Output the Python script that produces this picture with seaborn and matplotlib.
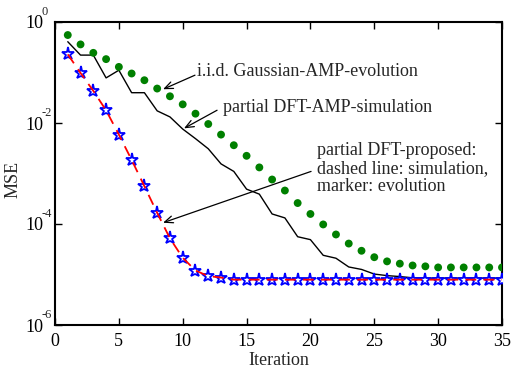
import numpy as np
import pandas as pd
import matplotlib
matplotlib.use("Agg")
import matplotlib.pyplot as plt
import seaborn as sns
from matplotlib.ticker import FixedLocator, NullLocator, FixedFormatter

iterations = list(range(1, 36))

gauss_amp_evolution = [0.552, 0.360, 0.245, 0.184, 0.129, 0.0955, 0.0703, 0.0481, 0.0338, 0.0234,
                       0.0153, 0.00955, 0.00589, 0.00363, 0.00224, 0.00132, 7.6e-4, 4.6e-4, 2.6e-4, 1.58e-4,
                       9.8e-5, 6.2e-5, 4.1e-5, 2.95e-5, 2.2e-5, 1.82e-5, 1.64e-5, 1.51e-5, 1.45e-5, 1.38e-5,
                       1.38e-5, 1.38e-5, 1.38e-5, 1.38e-5, 1.38e-5]

dft_amp_simulation = [0.407, 0.221, 0.221, 0.0782, 0.111, 0.0398, 0.0398, 0.0174, 0.0132, 0.00759,
                      0.0049, 0.00309, 0.00155, 0.0011, 4.9e-4, 3.9e-4, 1.58e-4, 1.32e-4, 5.6e-5, 4.9e-5,
                      2.4e-5, 2.1e-5, 1.41e-5, 1.26e-5, 1.02e-5, 9.5e-6, 9.1e-6, 8.6e-6, 8.5e-6, 8.5e-6,
                      8.5e-6, 8.5e-6, 8.5e-6, 8.5e-6, 8.5e-6]

dft_proposed = [0.229, 0.0977, 0.0432, 0.0178, 0.00589, 0.00186, 5.6e-4, 1.66e-4, 5.2e-5, 2.14e-5,
                1.2e-5, 9.3e-6, 8.7e-6, 7.9e-6, 7.9e-6, 7.9e-6, 7.9e-6, 7.9e-6, 7.9e-6, 7.9e-6,
                7.9e-6, 7.9e-6, 7.9e-6, 7.9e-6, 7.9e-6, 7.9e-6, 7.9e-6, 7.9e-6, 7.9e-6, 7.9e-6,
                7.9e-6, 7.9e-6, 7.9e-6, 7.9e-6, 7.9e-6]

x_ticks = [0, 5, 10, 15, 20, 25, 30, 35]
y_ticks = [1e-6, 1e-4, 1e-2, 1e0]
y_tick_base = ["10", "10", "10", "10"]
y_tick_exp = ["-6", "-4", "-2", "0"]

label_gauss = "i.i.d. Gaussian-AMP-evolution"
label_dft = "partial DFT-AMP-simulation"
label_prop = "partial DFT-proposed:\ndashed line: simulation,\nmarker: evolution"

df = pd.DataFrame({
    "Iteration": iterations,
    "gauss": gauss_amp_evolution,
    "dft": dft_amp_simulation,
    "prop": dft_proposed,
})

sns.set_style("ticks")
plt.rcParams["font.family"] = ["Liberation Serif", "DejaVu Serif"]

fig = plt.figure(figsize=(5.12, 3.70), dpi=100)
ax = fig.add_axes([55 / 512, 1 - 325 / 370, (502 - 55) / 512, (325 - 22) / 370])

sns.lineplot(data=df, x="Iteration", y="dft", ax=ax, color="black", lw=1.0, zorder=3)
sns.scatterplot(data=df, x="Iteration", y="gauss", ax=ax, color="#008000", s=32,
                edgecolor="none", zorder=4)
sns.lineplot(data=df, x="Iteration", y="prop", ax=ax, color="blue", lw=0, marker="*",
             markersize=9.5, markerfacecolor="white", markeredgecolor="blue",
             markeredgewidth=1.3, zorder=5)
sns.lineplot(data=df, x="Iteration", y="prop", ax=ax, color="red", lw=1.3, zorder=6)
ax.lines[-1].set_dashes([6, 4])

ax.set_yscale("log")
ax.set_xlim(0, 35)
ax.set_ylim(1e-6, 1)
ax.xaxis.set_major_locator(FixedLocator(x_ticks))
ax.yaxis.set_major_locator(FixedLocator(y_ticks))
ax.yaxis.set_minor_locator(NullLocator())
ax.yaxis.set_major_formatter(FixedFormatter(y_tick_base))
ax.tick_params(direction="in", top=True, right=True, length=5, width=1.0,
               labelsize=13, colors="black")
ax.tick_params(axis="y", pad=8.5)
ax.tick_params(axis="x", pad=6)
for yv, ex in zip(y_ticks, y_tick_exp):
    ax.annotate(ex, xy=(0, yv), xycoords=("axes fraction", "data"),
                xytext=(-9.5, 7.5), textcoords="offset points",
                fontsize=9, ha="left", va="center")
for s in ax.spines.values():
    s.set_linewidth(1.5)
    s.set_color("black")

ax.set_xlabel("Iteration", fontsize=13, labelpad=1)
ax.set_ylabel("MSE", fontsize=13)
ax.yaxis.set_label_coords(-0.074, 0.48)

arrow = dict(arrowstyle="->,head_length=0.6,head_width=0.25", color="black", lw=0.9,
             shrinkA=0, shrinkB=0)
ax.annotate("", xy=(8.46, 0.0466), xytext=(10.96, 0.0885), arrowprops=arrow)
ax.text(11.12, 0.106, label_gauss, fontsize=13, ha="left", va="center")

ax.annotate("", xy=(10.10, 0.00783), xytext=(12.69, 0.0179), arrowprops=arrow)
ax.text(13.16, 0.0205, label_dft, fontsize=13, ha="left", va="center")

ax.annotate("", xy=(8.46, 1.06e-4), xytext=(20.05, 1.1e-3), arrowprops=arrow)
ax.text(20.52, 1.26e-3, label_prop, fontsize=13, ha="left", va="center", linespacing=1.1)

fig.savefig("out.png", dpi=100)
